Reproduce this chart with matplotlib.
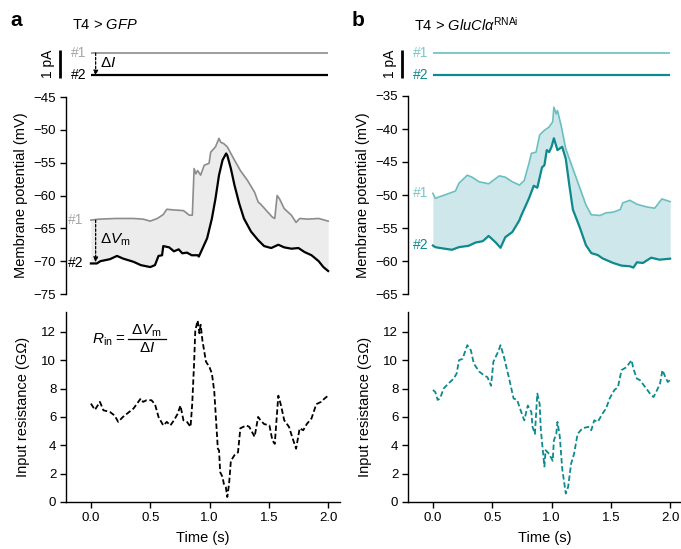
import numpy as np
import matplotlib
matplotlib.use('Agg')
import matplotlib.pyplot as plt

plt.rcParams['font.family'] = ['Liberation Sans', 'DejaVu Sans']
plt.rcParams['mathtext.fontset'] = 'custom'
plt.rcParams['mathtext.rm'] = 'Liberation Sans'
plt.rcParams['mathtext.it'] = 'Liberation Sans:italic'
plt.rcParams['mathtext.bf'] = 'Liberation Sans:bold'
plt.rcParams['axes.linewidth'] = 1.0

# Injected current (pA), relative to trace #1.
current_levels = [0.0, -0.8]

# T4 > GFP, membrane potential (mV).
gfp_v1_t = [0.0, 0.07, 0.21, 0.36, 0.44, 0.5, 0.56, 0.61, 0.64, 0.70, 0.78, 0.83, 0.855, 0.87, 0.885, 0.9, 0.925, 0.955, 0.996, 1.01, 1.05, 1.08, 1.095, 1.12, 1.15, 1.18, 1.21, 1.26, 1.32, 1.38, 1.41, 1.43, 1.49, 1.53, 1.55, 1.57, 1.59, 1.63, 1.69, 1.73, 1.76, 1.83, 1.92, 2.0]
gfp_v1 = [-63.75, -63.6, -63.5, -63.5, -63.6, -63.9, -63.5, -62.9, -62.1, -62.2, -62.3, -63.0, -63.0, -55.9, -56.7, -56.2, -56.9, -55.4, -55.1, -53.4, -52.6, -51.3, -51.9, -52.1, -52.6, -53.6, -54.6, -56.2, -57.7, -59.5, -61.0, -61.3, -62.5, -63.3, -63.5, -60.0, -60.5, -62.0, -63.0, -64.1, -63.5, -63.6, -63.5, -63.9]
gfp_v2_t = [0.0, 0.05, 0.08, 0.16, 0.22, 0.27, 0.36, 0.42, 0.5, 0.54, 0.57, 0.6, 0.61, 0.66, 0.70, 0.74, 0.77, 0.81, 0.85, 0.90, 0.91, 0.94, 0.98, 1.02, 1.05, 1.08, 1.11, 1.14, 1.15, 1.18, 1.21, 1.25, 1.29, 1.35, 1.41, 1.46, 1.52, 1.58, 1.63, 1.69, 1.75, 1.80, 1.86, 1.92, 1.96, 2.0]
gfp_v2 = [-70.35, -70.35, -70.0, -69.7, -69.2, -69.6, -70.1, -70.6, -70.9, -70.6, -69.2, -69.1, -67.7, -67.9, -68.5, -68.2, -68.8, -68.7, -69.1, -69.1, -69.3, -68.1, -66.5, -63.5, -60.5, -56.9, -54.6, -53.6, -53.9, -55.9, -58.4, -61.2, -63.5, -65.5, -66.8, -67.7, -68.0, -67.5, -67.9, -68.1, -68.0, -68.6, -69.1, -70.0, -70.9, -71.5]

# T4 > GFP, input resistance (GOhm).
gfp_r_t = [0.0, 0.034, 0.076, 0.105, 0.16, 0.2, 0.23, 0.27, 0.36, 0.42, 0.44, 0.47, 0.51, 0.54, 0.57, 0.61, 0.64, 0.67, 0.70, 0.73, 0.755, 0.78, 0.81, 0.84, 0.854, 0.87, 0.88, 0.9, 0.915, 0.925, 0.94, 0.97, 1.0, 1.02, 1.04, 1.07, 1.08, 1.09, 1.11, 1.12, 1.137, 1.15, 1.165, 1.18, 1.21, 1.24, 1.26, 1.31, 1.335, 1.38, 1.41, 1.43, 1.46, 1.505, 1.53, 1.55, 1.58, 1.60, 1.63, 1.67, 1.70, 1.73, 1.76, 1.79, 1.82, 1.86, 1.90, 1.94, 1.97, 2.0]
gfp_r = [6.94, 6.5, 7.06, 6.47, 6.35, 6.1, 5.65, 6.0, 6.6, 7.3, 7.06, 7.18, 7.18, 6.9, 6.0, 5.4, 5.65, 5.4, 5.76, 6.2, 6.8, 5.76, 5.65, 5.3, 6.9, 9.8, 12.1, 12.8, 11.9, 12.5, 11.4, 9.9, 9.5, 9.06, 7.8, 3.76, 3.65, 2.1, 1.76, 1.3, 1.06, 0.35, 1.3, 2.9, 3.3, 3.5, 5.2, 5.4, 5.3, 4.6, 6.0, 5.76, 5.5, 5.4, 4.35, 4.1, 7.5, 6.9, 5.76, 5.3, 4.5, 3.76, 5.2, 5.06, 5.5, 5.9, 6.9, 7.06, 7.3, 7.5]

# T4 > GluCla RNAi, membrane potential (mV).
rnai_v1_t = [0.0, 0.02, 0.05, 0.1, 0.19, 0.22, 0.29, 0.33, 0.39, 0.47, 0.56, 0.61, 0.67, 0.73, 0.77, 0.81, 0.83, 0.87, 0.90, 0.94, 0.98, 1.01, 1.02, 1.04, 1.05, 1.08, 1.12, 1.18, 1.24, 1.29, 1.335, 1.41, 1.46, 1.52, 1.58, 1.60, 1.66, 1.72, 1.80, 1.87, 1.93, 2.0]
rnai_v1 = [-49.75, -50.5, -50.3, -50.0, -49.4, -48.2, -47.0, -47.3, -48.0, -48.3, -47.1, -47.3, -48.0, -48.5, -47.8, -45.2, -43.7, -43.5, -40.9, -40.2, -39.7, -38.9, -36.7, -37.7, -37.2, -39.4, -43.0, -46.0, -49.0, -51.5, -53.0, -53.1, -52.7, -52.6, -52.2, -51.2, -50.8, -51.4, -51.8, -52.0, -50.6, -51.0]
rnai_v2_t = [0.0, 0.02, 0.05, 0.16, 0.22, 0.30, 0.36, 0.42, 0.47, 0.53, 0.57, 0.61, 0.67, 0.73, 0.74, 0.81, 0.85, 0.88, 0.92, 0.94, 0.96, 0.98, 1.0, 1.02, 1.05, 1.09, 1.12, 1.15, 1.18, 1.24, 1.29, 1.335, 1.39, 1.43, 1.52, 1.59, 1.66, 1.69, 1.72, 1.77, 1.84, 1.91, 2.0]
rnai_v2 = [-57.65, -57.9, -58.0, -58.3, -57.9, -57.7, -57.2, -57.0, -56.2, -57.2, -58.0, -56.4, -55.6, -53.8, -53.3, -50.5, -48.6, -48.9, -45.8, -45.5, -43.2, -43.5, -42.7, -41.4, -43.2, -42.7, -44.5, -48.5, -52.2, -55.0, -57.6, -58.8, -59.1, -59.6, -60.3, -60.7, -60.8, -61.0, -60.2, -60.3, -59.5, -59.8, -59.65]

# T4 > GluCla RNAi, input resistance (GOhm).
rnai_r_t = [0.0, 0.02, 0.04, 0.06, 0.09, 0.13, 0.175, 0.2, 0.22, 0.25, 0.29, 0.32, 0.345, 0.39, 0.43, 0.46, 0.49, 0.51, 0.55, 0.57, 0.60, 0.64, 0.68, 0.71, 0.73, 0.755, 0.77, 0.80, 0.83, 0.84, 0.86, 0.88, 0.90, 0.91, 0.94, 0.95, 0.98, 1.01, 1.02, 1.04, 1.05, 1.07, 1.09, 1.12, 1.14, 1.165, 1.19, 1.22, 1.26, 1.31, 1.335, 1.36, 1.39, 1.43, 1.46, 1.49, 1.53, 1.56, 1.59, 1.63, 1.675, 1.69, 1.72, 1.745, 1.79, 1.83, 1.86, 1.89, 1.915, 1.935, 1.96, 1.98, 2.0]
rnai_r = [7.9, 7.76, 7.2, 7.3, 8.0, 8.35, 8.7, 9.06, 10.0, 10.1, 11.06, 10.7, 9.76, 9.2, 8.94, 8.8, 8.2, 9.9, 10.6, 11.06, 10.2, 8.8, 7.3, 7.2, 6.7, 6.1, 5.76, 6.8, 6.35, 5.3, 4.8, 7.65, 6.9, 5.06, 2.5, 3.65, 3.4, 2.9, 4.35, 4.8, 5.65, 4.6, 2.35, 0.6, 1.06, 2.7, 3.4, 4.8, 5.2, 5.3, 5.06, 5.76, 5.65, 6.24, 6.6, 7.3, 7.9, 8.1, 9.3, 9.5, 10.0, 9.4, 8.7, 8.6, 8.1, 7.65, 7.4, 7.9, 8.35, 9.3, 8.8, 8.47, 8.6]

time_ticks = [0.0, 0.5, 1.0, 1.5, 2.0]

W, H = 681.0, 549.0
def px_axes(fig, x0, y0, x1, y1):
	# Axes from pixel box (top-left origin).
	return fig.add_axes([x0 / W, 1 - y1 / H, (x1 - x0) / W, (y1 - y0) / H])

def style_axis(ax):
	ax.spines['top'].set_visible(False)
	ax.spines['right'].set_visible(False)
	ax.tick_params(direction='out', length=4, width=1, labelsize=9.5, pad=3)

def draw_panel(fig, x0, title, label, c1, c2, fill_c, v1t, v1, v2t, v2, vlim, rt, r, lbl_c1, annotate, lbl_x):
	xlim = (-0.21, 2.1)

	# Current steps.
	ax = px_axes(fig, x0, 45, x0 + 274, 85)
	ax.set_xlim(xlim)
	ax.set_ylim(-1.143, 0.286)
	ax.axis('off')
	ax.hlines(current_levels[0], 0, 2.0, color=c1, lw=1.2)
	ax.hlines(current_levels[1], 0, 2.0, color=c2, lw=1.6)
	ax.plot([-0.263, -0.263], [0.1, -0.9], color='black', lw=2.0, clip_on=False, solid_capstyle='butt')
	ax.text(-0.36, -0.4, '1 pA', rotation=90, ha='center', va='center', fontsize=10)
	ax.text(-0.04, current_levels[0], '#1', ha='right', va='center', fontsize=10, color=lbl_c1)
	ax.text(-0.04, current_levels[1], '#2', ha='right', va='center', fontsize=10, color=c2)
	if annotate:
		ax.annotate('', xy=(0.04, current_levels[1]), xytext=(0.04, current_levels[0]),
			arrowprops=dict(arrowstyle='-|>', linestyle=(0, (2, 1.5)), color='black', lw=0.9, mutation_scale=7, shrinkA=0, shrinkB=0))
		ax.text(0.075, -0.35, r'$\Delta I$', ha='left', va='center', fontsize=11)

	fig.text((x0 - 56) / W, 1 - 20 / H, label, fontsize=15, fontweight='bold', ha='left', va='center')
	fig.text((x0 + 6) / W, 1 - 25 / H, title, fontsize=10.5, ha='left', va='center')

	# Membrane potential.
	top = 97 if vlim[1] == -45 else 96
	ax = px_axes(fig, x0, top, x0 + 274, 294)
	ax.set_xlim(xlim)
	ax.set_ylim(vlim)
	grid = np.linspace(0, 2, 2001)
	y1 = np.interp(grid, v1t, v1)
	y2 = np.interp(grid, v2t, v2)
	ax.fill_between(grid, y1, y2, color=fill_c, lw=0)
	ax.plot(v1t, v1, color=c1, lw=1.2)
	ax.plot(v2t, v2, color=c2, lw=1.6)
	style_axis(ax)
	ax.spines['bottom'].set_visible(False)
	ax.set_xticks([])
	ax.set_yticks(np.arange(vlim[0], vlim[1] + 1, 5))
	ax.set_yticklabels(['\u2212%d' % abs(v) for v in np.arange(vlim[0], vlim[1] + 1, 5)])
	ax.set_ylabel('Membrane potential (mV)', fontsize=10.5, labelpad=4)
	ax.text(lbl_x, v1[0], '#1', ha='right', va='center', fontsize=10, color=lbl_c1)
	ax.text(lbl_x, v2[0], '#2', ha='right', va='center', fontsize=10, color=c2)
	if annotate:
		ax.annotate('', xy=(0.04, v2[0] + 0.2), xytext=(0.04, v1[0]),
			arrowprops=dict(arrowstyle='-|>', linestyle=(0, (2, 1.5)), color='black', lw=0.9, mutation_scale=7, shrinkA=0, shrinkB=0))
		ax.text(0.075, -66.8, r'$\Delta V_{\mathrm{m}}$', ha='left', va='center', fontsize=11)

	# Input resistance.
	ax = px_axes(fig, x0, 312, x0 + 274, 502)
	ax.set_xlim(xlim)
	ax.set_ylim(0, 13.4)
	ax.plot(rt, r, color=c2, lw=1.3, linestyle=(0, (3, 1.5)))
	style_axis(ax)
	ax.set_xticks(time_ticks)
	ax.set_xticklabels(['%.1f' % t for t in time_ticks])
	ax.set_yticks(np.arange(0, 13, 2))
	ax.set_xlabel('Time (s)', fontsize=10.5, labelpad=5)
	ax.set_ylabel('Input resistance (G\u03a9)', fontsize=10.5, labelpad=8)
	if annotate:
		ax.text(0.01, 11.45, r'$R_{\mathrm{in}}$ =', ha='left', va='center', fontsize=11)
		ax.text(0.47, 12.05, r'$\Delta V_{\mathrm{m}}$', ha='center', va='center', fontsize=11)
		ax.plot([0.31, 0.63], [11.5, 11.5], color='black', lw=0.9)
		ax.text(0.47, 10.85, r'$\Delta I$', ha='center', va='center', fontsize=11)

fig = plt.figure(figsize=(6.81, 5.49), dpi=100)

draw_panel(fig, 66, r'T4 > $\mathit{GFP}$', 'a', '#8c8c8c', 'black', '#ececec',
	gfp_v1_t, gfp_v1, gfp_v2_t, gfp_v2, (-75, -45), gfp_r_t, gfp_r, '#a8a8a8', True, -0.065)
draw_panel(fig, 408, r'T4 > $\mathit{GluCl\alpha}^{\mathrm{RNAi}}$', 'b', '#6cbfc0', '#0e8a8c', '#cde7ea',
	rnai_v1_t, rnai_v1, rnai_v2_t, rnai_v2, (-65, -35), rnai_r_t, rnai_r, '#7cc7c8', False, -0.035)

fig.savefig('out.png', dpi=100)
